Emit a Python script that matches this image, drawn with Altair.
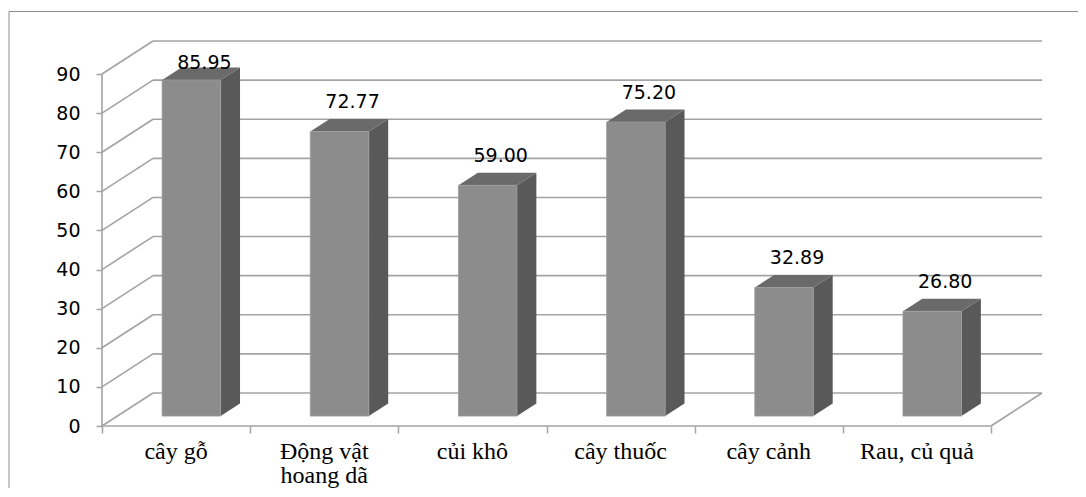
import altair as alt
import pandas as pd

# ---- data ----
categories = ["cây gỗ", "Động vật\nhoang dã", "củi khô", "cây thuốc", "cây cảnh", "Rau, củ quả"]
values = [85.95, 72.77, 59.00, 75.20, 32.89, 26.80]
y_ticks = [0, 10, 20, 30, 40, 50, 60, 70, 80, 90]

# ---- geometry of the pseudo-3D frame (scale units) ----
W, H = 940, 385
N = len(categories)
UX = 889 / N           # px per category unit
UY = 352 / 90          # px per value unit
DX = 51 / UX           # wall depth in x units
DY = 33 / UY           # wall depth in value units
XMAX = N + DX
YMAX = max(y_ticks) + DY
F0, F1 = 0.3, 0.68     # bar front / back depth fraction
HALF = 0.1975          # half bar width (units)

GRID = "#a3a3a3"
FRONT = "#8c8c8c"
SIDE = "#595959"
TOP = "#6a6a6a"

xs = alt.Scale(domain=[0, XMAX], nice=False, zero=False)
ys = alt.Scale(domain=[0, YMAX], nice=False, zero=False)
XAX = alt.Axis(values=list(range(N + 1)), labels=False, domain=False, grid=False,
               tickSize=7, tickColor=GRID, tickWidth=1.5, title=None)
YAX = alt.Axis(values=y_ticks, domain=False, grid=False, tickSize=6, tickColor=GRID,
               tickWidth=1.5, labelFont="DejaVu Sans", labelFontSize=19,
               labelColor="#000000", labelPadding=16, title=None)

def X(f):
    return alt.X(f, type="quantitative", scale=xs, axis=XAX)

def Y(f):
    return alt.Y(f, type="quantitative", scale=ys, axis=YAX)

# grid / wall lines
rules = []
top_v = max(y_ticks)
for v in y_ticks:
    rules.append({"x": DX, "x2": N + DX, "y": v + DY, "y2": v + DY})   # back wall
    rules.append({"x": 0, "x2": DX, "y": v, "y2": v + DY})             # side wall
rules.append({"x": 0, "x2": N, "y": 0, "y2": 0})                       # floor front
rules.append({"x": N, "x2": N + DX, "y": 0, "y2": DY})                 # floor right
rules.append({"x": 0, "x2": 0, "y": 0, "y2": top_v})                   # front axis
rules_df = pd.DataFrame(rules)

front_rows, side_rows, top_rows, lab_rows = [], [], [], []
for i, (c, v) in enumerate(zip(categories, values)):
    uc = i + 0.5
    ul, ur = uc - HALF, uc + HALF
    front_rows.append({"cat": c, "x": ul + F0 * DX, "x2": ur + F0 * DX,
                       "y": F0 * DY, "y2": v + F0 * DY})
    for d in (F0, F1):
        side_rows.append({"cat": c, "x": ur + d * DX, "y": d * DY, "y2": v + d * DY})
        top_rows.append({"cat": c, "y": v + d * DY, "x": ul + d * DX, "x2": ur + d * DX})
    lab_rows.append({"cat": c, "v": v, "x": uc + F0 * DX,
                     "y": min(v + F0 * DY + 23 / UY, (426 - 69) / UY)})
front_df = pd.DataFrame(front_rows)
side_df = pd.DataFrame(side_rows)
top_df = pd.DataFrame(top_rows)
lab_df = pd.DataFrame(lab_rows)
cat_df = pd.DataFrame({"cat": categories, "x": [i + 0.5 for i in range(N)], "y": [0] * N})

grid = alt.Chart(rules_df).mark_rule(color=GRID, strokeWidth=1.6).encode(
    x=X("x"), x2="x2", y=Y("y"), y2="y2")

side = alt.Chart(side_df).mark_area(orient="vertical", color=SIDE, opacity=1).encode(
    x=X("x"), y=Y("y"), y2="y2", detail="cat:N")

top = alt.Chart(top_df).mark_area(orient="horizontal", color=TOP, opacity=1).encode(
    y=Y("y"), x=X("x"), x2="x2", detail="cat:N")

front = alt.Chart(front_df).mark_rect(color=FRONT, stroke="#9c9c9c", strokeWidth=0.8).encode(
    x=X("x"), x2="x2", y=Y("y"), y2="y2")

vlabels = alt.Chart(lab_df).mark_text(font="DejaVu Sans", fontSize=19, color="#000000",
                                      baseline="alphabetic", align="center", dx=13).encode(
    x=X("x"), y=Y("y"), text=alt.Text("v:Q", format=".2f"))

clabels = alt.Chart(cat_df).mark_text(font="Liberation Serif", fontSize=24, color="#000000",
                                      baseline="alphabetic", align="center", dy=33,
                                      lineBreak="\n", lineHeight=24).encode(
    x=X("x"), y=Y("y"), text="cat:N")

frame = alt.Chart(pd.DataFrame({"a": [0]})).mark_rect(
    filled=False, stroke="#8c8c8c", strokeWidth=1).encode(
    x=alt.value(-93), y=alt.value(-29.5), x2=alt.value(W + 300), y2=alt.value(H + 300))

chart = alt.layer(frame, grid, side, top, front, vlabels, clabels).properties(
    width=W, height=H,
    autosize=alt.AutoSizeParams(type="none"),
    padding={"left": 94, "top": 33, "right": 36, "bottom": 62},
    background="white",
).configure_view(stroke=None)

chart.save("out.html", embed_options={"renderer": "svg", "actions": False})
